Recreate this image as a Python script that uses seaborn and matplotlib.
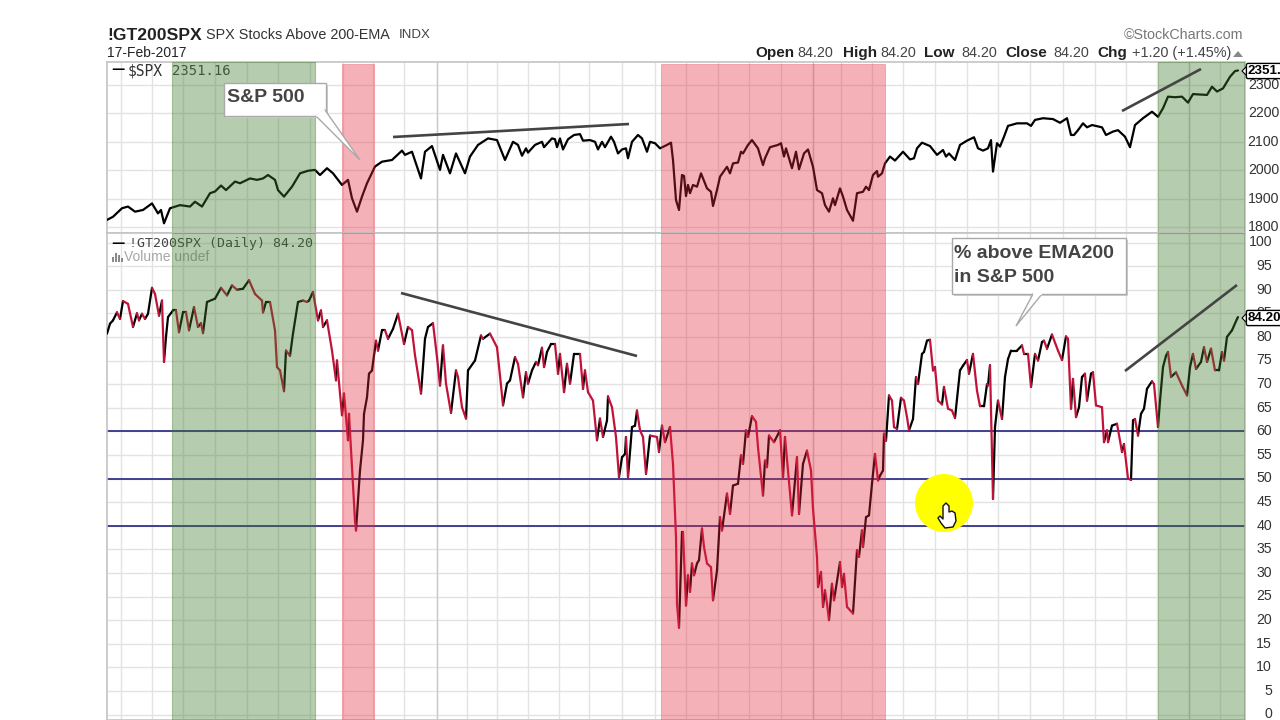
import numpy as np
import pandas as pd
import matplotlib
matplotlib.use("Agg")
import matplotlib.pyplot as plt
from matplotlib.patches import Rectangle, Polygon, Circle
import seaborn as sns

# ---------- data (t = position along the time axis) ----------
spx_t = [0,6,15,21,28,36,45,51,54,57,63,73,83,88,95,103,108,114,119,128,133,143,150,156,161,168,171,177,185,193,
         201,208,213,220,226,235,241,245,250,255,260,268,275,285,295,298,305,314,318,325,333,336,343,349,358,363,371,381,390,398,
         406,411,415,419,421,428,435,437,445,448,450,453,456,461,467,473,476,483,488,491,495,498,504,507,511,515,519,521,525,531,
         535,540,543,548,553,560,564,566,569,572,575,577,579,581,583,586,590,594,600,604,606,610,613,620,623,626,631,634,636,641,
         645,651,656,658,663,671,674,677,679,685,689,692,697,701,706,710,715,718,722,726,728,733,736,740,746,750,756,759,762,766,
         770,771,775,778,783,788,796,803,807,810,815,823,830,836,839,842,848,853,860,867,871,876,881,884,886,890,893,897,901,910,
         920,924,928,936,946,953,960,964,967,971,976,980,985,995,999,1006,1011,1018,1023,1028,1036,1045,1051,1056,1061,1068,1075,1081,1086,1100,
         1105,1110,1116,1123,1128,1131]
spx_values = [1825,1836,1866,1872,1854,1860,1883,1848,1860,1813,1866,1877,1872,1889,1872,1919,1925,1946,1930,1960,1954,1971,1966,1971,1983,1966,1930,1907,1942,1989,
              1998,2001,1983,2007,1989,1948,1966,1901,1854,1907,1954,2013,2030,2036,2069,2054,2065,1971,2065,2085,2001,2054,1989,2059,1989,2048,2089,2112,2106,2036,
              2100,2089,2051,2077,2062,2089,2100,2081,2112,2109,2081,2112,2073,2109,2124,2127,2104,2106,2100,2073,2100,2081,2118,2100,2059,2073,2077,2042,2100,2124,
              2112,2065,2100,2095,2077,2089,2097,2036,1895,1860,1983,1980,1909,1948,1919,1948,1942,1989,1936,1924,1874,1930,1977,2012,1989,2024,2027,2065,2059,2089,
              2106,2077,2018,2042,2081,2089,2095,2048,2077,2007,2065,2003,2059,2073,2012,1930,1919,1877,1854,1901,1877,1936,1907,1860,1822,1919,1924,1942,1930,1983,
              1997,1977,1989,2024,2048,2034,2065,2038,2042,2077,2097,2085,2054,2071,2048,2059,2036,2089,2104,2116,2077,2069,2077,2106,1995,2095,2083,2118,2156,2165,
              2165,2156,2177,2183,2180,2167,2183,2124,2124,2141,2165,2151,2159,2151,2124,2136,2141,2118,2081,2159,2183,2206,2188,2218,2259,2257,2259,2238,2268,2265,
              2294,2277,2288,2329,2349,2351.16]

pct_t = [0,3,6,10,13,16,21,26,30,32,35,38,41,45,48,52,55,57,59,61,66,69,72,76,79,82,87,91,94,96,
         100,108,114,120,125,130,136,142,148,155,156,159,163,168,170,173,177,179,183,186,191,196,200,202,206,211,214,216,220,225,
         229,230,235,237,241,242,248,249,253,256,257,260,262,265,269,271,275,278,281,286,291,297,301,305,308,314,318,321,326,330,
         333,336,339,344,349,351,355,359,361,368,374,376,383,390,393,396,400,403,408,411,416,419,421,425,429,431,435,437,440,444,
         448,451,453,457,460,463,467,473,476,478,481,486,490,493,496,500,501,505,509,512,515,518,519,521,525,528,530,533,536,539,
         543,550,552,555,558,563,566,569,570,572,575,576,579,581,583,585,587,590,592,595,597,600,604,606,610,613,615,620,623,626,
         631,634,636,639,641,645,649,651,656,658,660,662,667,673,676,678,685,690,692,696,700,704,706,710,711,714,716,718,720,722,
         725,727,733,735,737,740,746,750,752,755,756,759,762,765,768,771,773,776,777,779,782,785,787,790,794,797,800,802,806,809,
         811,815,817,820,823,826,828,831,835,837,841,845,848,853,856,860,862,866,870,873,877,880,881,883,886,888,891,895,898,901,
         904,910,915,917,921,924,928,931,935,937,940,945,951,955,959,961,964,966,969,972,975,978,980,984,986,989,995,997,1000,1001,
         1005,1010,1015,1017,1021,1024,1026,1028,1031,1034,1037,1040,1045,1047,1051,1053,1056,1059,1061,1064,1069,1075,1080,1083,1086,1089,1094,1097,1100,1104,
         1108,1112,1115,1117,1120,1125,1130,1131]
pct_values = [80.7,82.8,83.5,85.2,83.8,87.6,87,82.1,85,83.5,84.9,83.8,84.9,90.4,89.1,84.5,87.7,74.7,80,84.2,85.6,85.6,81,85.2,85.2,81.4,86.3,82.1,82.9,80.8,
              87.4,88.1,90.4,88.8,90.9,90,90.2,92,89.1,87.7,85.2,87.4,87.4,81.4,73.6,72.9,68.5,77.1,76,80.7,87.4,87.7,87.4,87.7,89.5,83.5,85.6,82.1,83.5,77.1,
              70.8,75,63.4,68,58.1,63.7,41.1,39,51.7,58.1,63.7,67.2,72.2,72.9,79.2,77.1,81.4,81.4,79.6,81.7,84.9,78.5,82.1,81.4,76.1,68,79.6,82.1,82.9,75.7,
              69.7,78.2,70.1,63.9,72.9,71.5,65.1,62.7,72.9,75,80.3,79.6,80.7,77.8,71.8,65.5,70.1,70.8,75.7,74.3,67.2,72.5,70.1,72.9,74.7,74,77.7,73.6,76.8,78.5,
              78.5,72.2,76.4,68.3,74.3,70.1,76.4,76.4,69,72.9,68.3,66.5,58.1,62.7,58.8,62.3,67.4,65.1,58.8,50.3,54.5,55.2,58.8,50.3,60.9,61.2,64.4,60.2,58.8,51,
              59.1,58.8,55.6,61.2,57.7,60.9,53.1,37.6,23.5,18.4,38.6,38.6,23.1,29.5,26,32,29.5,32,32.7,39.4,35.5,32,31.2,24.2,30.5,41.8,39,46.8,42.5,48.5,
              48.9,54.9,53.1,60.2,58.8,63.2,62,56.6,46.4,53.8,52.4,59.1,57.7,60.2,50.3,58.8,42.2,54.5,42.5,53.1,55.9,51.7,43.6,33.4,27,30.2,22.8,26.3,23.5,20,
              27.7,24.2,32.3,27,29.8,22.8,21.4,34.8,33.4,39,35.5,41.8,42.2,48.9,55.2,49.6,50.6,51.7,59.5,58,67.6,66.5,60.9,60.5,67.1,66.5,63,60.2,62.6,71.5,
              70,76.4,76.8,79.2,79.4,72.9,73.6,66.5,65.7,69.4,64.8,64.4,62.8,72.9,73.9,75.1,72.2,76.4,68.6,65.3,65.3,70,69.7,74,45.7,60.9,66.5,62.6,71.5,75.3,
              77.1,77.1,78.2,76.4,76.4,69.4,76.4,75,78.9,79.2,77.5,80.5,77.1,75.1,80.1,79.6,64.8,71.1,63,65.1,71.5,72.2,66.5,72.2,72.5,65.5,65.1,57.7,60.2,57.7,
              61.2,61.6,55.6,57.3,50,49.7,62.3,62.6,59.1,63.7,64.8,69,70.6,70,60.9,66.5,73.6,76,76.8,71.5,72.5,69.7,67.6,73.6,76.4,73.2,74.7,77.8,74.7,77.5,
              72.9,72.9,76.8,75,80,81.4,83.8,84.2]

month_ticks = [14,45,76,108,140,171,203,236,266,297,330,360,390,421,452,482,515,548,579,611,642,674,706,734,765,796,828,860,891,923,956,988,1019,1050,1082,1113]
year_ticks = [330,706,1082]
spx_ticks = [1800,1900,2000,2100,2200,2300]
pct_ticks = list(range(0,101,5))
pct_levels = [40,50,60]
green_zones = [(65,208),(1051,1138)]
red_zones = [(235,267),(554,778)]

# ---------- style ----------
sns.set_theme(style="white")
plt.rcParams["font.family"] = ["Liberation Sans", "DejaVu Sans"]
W, H = 1280, 720
GRID = "#e3e3e3"; BORDER = "#c4c4c4"; UP = "#000000"; DOWN = "#c2123a"

fig = plt.figure(figsize=(W/100, H/100), dpi=100, facecolor="white")
def panel(top, bottom):
    return fig.add_axes([107/W, 1-bottom/H, (1245-107)/W, (bottom-top)/H])
ax_top = panel(62, 233)
ax_pct = panel(233, 720)

ax_top.set_xlim(0, 1138); ax_pct.set_xlim(0, 1138)
ax_top.set_ylim(1800-6/0.284, 1800+165/0.284)
ax_pct.set_ylim((714.5-720)/4.72, (714.5-233)/4.72)

# price line
spx_df = pd.DataFrame({"t": spx_t, "close": spx_values})
sns.lineplot(data=spx_df, x="t", y="close", color="black", lw=1.6, estimator=None, ax=ax_top, zorder=3)

# breadth line, rising segments black and falling segments red
rows = []
for i in range(len(pct_t)-1):
    d = "up" if pct_values[i+1] >= pct_values[i] else "down"
    rows.append((i, pct_t[i], pct_values[i], d))
    rows.append((i, pct_t[i+1], pct_values[i+1], d))
pct_df = pd.DataFrame(rows, columns=["segment", "t", "pct", "direction"])
sns.lineplot(data=pct_df, x="t", y="pct", hue="direction", units="segment", estimator=None, sort=False,
             palette={"up": UP, "down": DOWN}, lw=1.6, legend=False, ax=ax_pct, zorder=3)
for lv in pct_levels:
    ax_pct.axhline(lv, color="#23237f", lw=1.2, zorder=2.5)

for ax, ticks, pad in ((ax_top, spx_ticks, 24.5), (ax_pct, pct_ticks, 19.5)):
    ax.set_xlabel(""); ax.set_ylabel("")
    ax.set_xticks(month_ticks); ax.set_xticklabels([])
    ax.set_yticks(ticks)
    ax.yaxis.tick_right()
    ax.tick_params(axis="y", length=0, pad=pad, labelsize=10.2, labelcolor="#333333")
    ax.tick_params(axis="x", length=0)
    for lab in ax.get_yticklabels():
        lab.set_ha("right"); lab.set_va("center")
    ax.grid(True, color=GRID, lw=1)
    ax.set_axisbelow(True)
    for y in year_ticks:
        ax.axvline(y, color="#cacaca", lw=1, zorder=1)
    for s in ax.spines.values():
        s.set_color(BORDER); s.set_linewidth(1.2)
for a, b in green_zones:
    ax_top.axvspan(a, b, color="#3f7a2a", alpha=0.38, lw=0.8, zorder=5)
    ax_pct.axvspan(a, b, color="#3f7a2a", alpha=0.38, lw=0.8, zorder=5)
for a, b in red_zones:
    ax_top.axvspan(a, b, ymax=0.988, color="#e6293a", alpha=0.36, lw=0.6, zorder=5)
    ax_pct.axvspan(a, b, color="#e6293a", alpha=0.36, lw=0.6, zorder=5)

def ax_text(ax, px, py, s, **kw):
    """Text on a panel, placed in figure pixels, drawn under the shading."""
    x, y = fig.transFigure.transform((px/W, 1-py/H))
    x, y = ax.transAxes.inverted().transform((x, y))
    ax.text(x, y, s, transform=ax.transAxes, va="center", ha="left", zorder=4, clip_on=False, **kw)

MONO = "DejaVu Sans Mono"
ax_text(ax_top, 111, 70, "\u2014", family="DejaVu Sans", weight="bold", fontsize=9.5, color="black")
ax_text(ax_top, 128, 71, "$SPX", family=MONO, fontsize=10.5, color="#333333", parse_math=False)
ax_text(ax_top, 172, 71, "2351.16", family=MONO, fontsize=10, color="#444444")
ax_text(ax_pct, 111, 243, "\u2014", family="DejaVu Sans", weight="bold", fontsize=9.5, color="black")
ax_text(ax_pct, 129, 243, "!GT200SPX (Daily) 84.20", family=MONO, fontsize=9.5, color="#444444")
ax_text(ax_pct, 124, 257, "Volume undef", fontsize=10, color="#a6a6a6")

# ---------- overlay in figure pixels: header, hand-drawn annotations ----------
ov = fig.add_axes([0, 0, 1, 1], facecolor="none")
ov.set_xlim(0, W); ov.set_ylim(H, 0); ov.axis("off")

def txt(x, y, s, size, weight="normal", color="#222222", ha="left", **kw):
    ov.text(x, y, s, fontsize=size, weight=weight, color=color, ha=ha, va="center", **kw)

txt(107, 36, "!GT200SPX", 12.6, "bold", "#222222")
txt(206, 35, "SPX Stocks Above 200-EMA", 10.4, color="#333333")
txt(399, 35, "INDX", 9.5, color="#444444")
txt(107, 53, "17-Feb-2017", 10, color="#222222")
txt(1243, 35, "\u00a9StockCharts.com", 10.3, color="#777777", ha="right")
for x, s, bold in [(755, "Open", True), (797, "84.20", False), (843, "High", True), (880, "84.20", False),
                   (924, "Low", True), (961, "84.20", False), (1005, "Close", True), (1053, "84.20", False),
                   (1097, "Chg", True), (1132, "+1.20 (+1.45%)", False)]:
    txt(x, 53, s, 11 if bold else 10.4, "bold" if bold else "normal", "#222222" if bold else "#444444")
ov.add_patch(Polygon([(1233, 57), (1243, 57), (1238, 51)], fc="#888888", ec="none"))

# volume icon
for x, h in ((112, 5), (115, 9), (118, 7), (121, 4)):
    ov.add_patch(Rectangle((x, 262-h), 2, h, fc="#8a8a8a", ec="none"))

# trend lines
for (x0, y0), (x1, y1) in [((393, 137), (629, 124)), ((401, 293), (637, 356)),
                           ((1122, 111), (1201, 69)), ((1125, 371), (1237, 285))]:
    ov.plot([x0, x1], [y0, y1], color="#444444", lw=1.9, solid_capstyle="butt")

# callouts
EDGE = "#a9a9a9"; SHADOW = "#cfcfcf"
ov.add_patch(Rectangle((226, 85), 102, 33, fc=SHADOW, ec="none"))
ov.add_patch(Rectangle((224, 83), 102, 33, fc="white", ec=EDGE, lw=1))
ov.add_patch(Polygon([(316, 116), (325, 110), (360, 160)], fc="white", ec=EDGE, lw=1))
ov.plot([317, 324], [115.5, 111], color="white", lw=1.6)
txt(227, 97, "S&P 500", 14, "bold", "#444444")

ov.add_patch(Rectangle((954, 240), 174, 56, fc=SHADOW, ec="none"))
ov.add_patch(Rectangle((952, 238), 174, 56, fc="white", ec=EDGE, lw=1))
ov.add_patch(Polygon([(1033, 294), (1042, 294), (1016, 326)], fc="white", ec=EDGE, lw=1))
ov.plot([1034, 1041], [294, 294], color="white", lw=1.6)
txt(954, 253, "% above EMA200", 14, "bold", "#444444")
txt(954, 277, "in S&P 500", 14, "bold", "#444444")

# last-value badges
badge = dict(boxstyle="round,pad=0.12", fc="white", ec="black", lw=1)
txt(1248, 71, "2351.", 9.6, "bold", "black", bbox=badge)
txt(1248, 318, "84.20", 9.6, "bold", "black", bbox=badge)
ov.add_patch(Polygon([(1247, 66), (1242, 71), (1247, 76)], fc="white", ec="black", lw=0.8))
ov.add_patch(Polygon([(1247, 313), (1242, 318), (1247, 323)], fc="white", ec="black", lw=0.8))

# presenter's pointer
ov.add_patch(Circle((944, 503), 29, fc="#ffff00", ec="none"))
ov.add_patch(Polygon([(943, 506), (946, 503), (949, 506), (949, 512), (952, 511), (955, 513), (956, 521),
                      (953, 527), (945, 528), (941, 523), (938, 518), (940, 516), (943, 519)],
                     fc="white", ec="#111111", lw=1, joinstyle="round"))

fig.savefig("out.png", dpi=100, facecolor="white")
assert len(spx_t) == len(spx_values) and len(pct_t) == len(pct_values)
